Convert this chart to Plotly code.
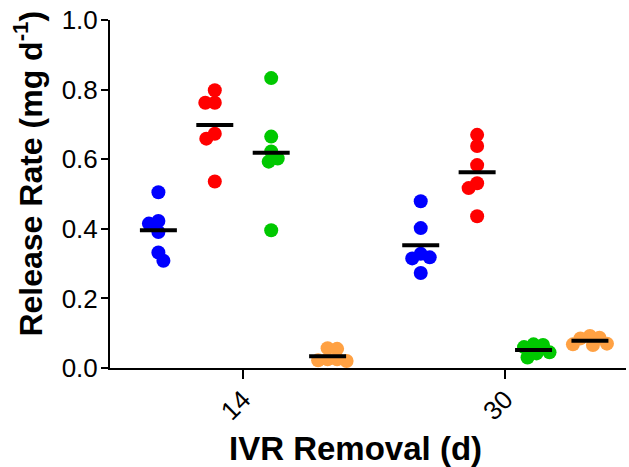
import plotly.graph_objects as go
import numpy as np

# ---- data ----
categories = ["14", "30"]
series_names = ["Blue", "Red", "Green", "Orange"]
series_colors = ["#0000FF", "#FF0000", "#00C800", "#FFA143"]

blue_14 = [0.505, 0.4225, 0.415, 0.391, 0.332, 0.308]
red_14 = [0.798, 0.762, 0.762, 0.673, 0.659, 0.536]
green_14 = [0.833, 0.665, 0.622, 0.602, 0.593, 0.396]
orange_14 = [0.057, 0.055, 0.025, 0.020, 0.022, 0.025]

blue_30 = [0.479, 0.402, 0.328, 0.318, 0.315, 0.273]
red_30 = [0.670, 0.638, 0.583, 0.531, 0.517, 0.436]
green_30 = [0.066, 0.068, 0.060, 0.045, 0.042, 0.030]
orange_30 = [0.087, 0.092, 0.085, 0.070, 0.068, 0.066]

values = {
    "14": [blue_14, red_14, green_14, orange_14],
    "30": [blue_30, red_30, green_30, orange_30],
}

# ---- layout constants ----
W, H = 629, 467
margin = dict(l=110, r=3, t=20, b=99)
x_range = [-0.507, 1.46]
y_range = [0.0, 1.0]
plot_w = W - margin["l"] - margin["r"]
plot_h = H - margin["t"] - margin["b"]
px_per_x = plot_w / (x_range[1] - x_range[0])
px_per_y = plot_h / (y_range[1] - y_range[0])

series_spacing = 0.215
offsets = [(i - 1.5) * series_spacing for i in range(4)]
mean_half = 0.0705
marker_size = 14
min_dist = 9.5  # px between centres in swarm


def swarm(vals):
    """Greedy beeswarm layout; returns x offsets in data units."""
    order = sorted(range(len(vals)), key=lambda i: -vals[i])
    placed = []
    out = [0.0] * len(vals)
    for i in order:
        y = vals[i] * px_per_y
        best = None
        for step in np.arange(0, 60, 0.5):
            for s in ([1, -1] if len(placed) % 2 else [-1, 1]):
                dx = s * step
                ok = all((dx - px) ** 2 + (y - py) ** 2 >= min_dist ** 2 for px, py in placed)
                if ok:
                    best = dx
                    break
            if best is not None:
                break
        placed.append((best, y))
        out[i] = best / px_per_x
    return out


fig = go.Figure()
for gi, cat in enumerate(categories):
    for si in range(4):
        vals = values[cat][si]
        centre = gi + offsets[si]
        dx = swarm(vals)
        fig.add_trace(go.Scatter(
            x=[centre + d for d in dx], y=vals, mode="markers",
            marker=dict(size=marker_size, color=series_colors[si], line=dict(width=0)),
            name=series_names[si], showlegend=False, cliponaxis=False,
        ))
        m = float(np.mean(vals))
        fig.add_trace(go.Scatter(
            x=[centre - mean_half, centre + mean_half], y=[m, m], mode="lines",
            line=dict(color="black", width=4), showlegend=False, cliponaxis=False,
        ))

font_family = "Liberation Sans, Arial, sans-serif"
fig.update_layout(
    width=W, height=H, margin=margin,
    plot_bgcolor="white", paper_bgcolor="white",
    font=dict(family=font_family, color="black"),
    xaxis=dict(
        range=x_range, tickvals=[0, 1], ticktext=categories, tickangle=-45,
        showline=True, linecolor="black", linewidth=2, ticks="outside",
        ticklen=9, tickwidth=2, tickcolor="black", showgrid=False, zeroline=False,
        tickfont=dict(size=26), ticklabelstandoff=-5, automargin=False,
    ),
    yaxis=dict(
        range=y_range, tickvals=[0, 0.2, 0.4, 0.6, 0.8, 1.0],
        ticktext=["0.0", "0.2", "0.4", "0.6", "0.8", "1.0"],
        showline=True, linecolor="black", linewidth=2, ticks="outside",
        ticklen=7, tickwidth=2, tickcolor="black", showgrid=False, zeroline=False,
        tickfont=dict(size=26), automargin=False, ticklabeloverflow="allow",
        ticklabelstandoff=-2,
    ),
    annotations=[
        dict(
            text="<b>Release Rate (mg d<sup>-1</sup>)</b>", xref="paper", yref="paper",
            x=-0.158, y=0.56, textangle=-90, showarrow=False,
            font=dict(size=32, family=font_family), xanchor="center", yanchor="middle",
        ),
        dict(
            text="<b>IVR Removal (d)</b>", xref="paper", yref="paper",
            x=0.475, y=-0.23, showarrow=False,
            font=dict(size=33, family=font_family), xanchor="center", yanchor="middle",
        ),
    ],
)

# remove the browser's default 8px body margin so the figure fills the window
fig.write_html(
    "out.html",
    config={"displayModeBar": False},
    post_script="document.body.style.margin='0';",
)
